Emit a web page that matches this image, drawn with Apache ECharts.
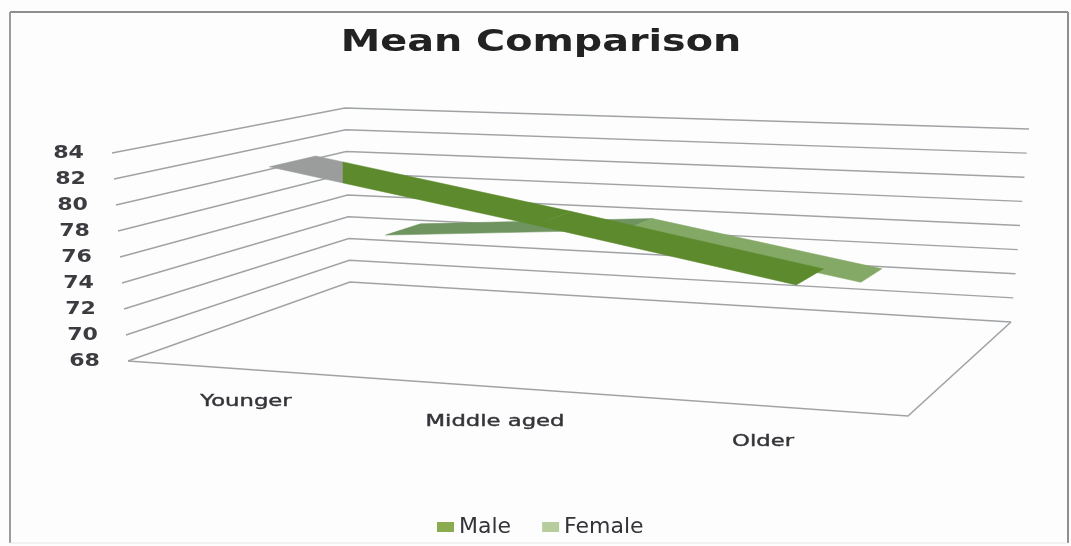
<!DOCTYPE html>
<html>
<head>
<meta charset="utf-8">
<style>
html,body{margin:0;padding:0;background:#fff;}
#chart{width:1071px;height:546px;}
</style>
<script src="https://cdn.jsdelivr.net/npm/echarts@6/dist/echarts.min.js"></script>
</head>
<body>
<div id="chart"></div>
<script>
var categories = ['Younger', 'Middle aged', 'Older'];
var maleValues = [83, 79.5, 76.1];
var femaleValues = [75, 76.4, 73.2];
var tickLabels = [68, 70, 72, 74, 76, 78, 80, 82, 84];

// corners of the 3d box on screen, used to project the flat grid into perspective
var box = {
    frontLeft: { floor: [128, 361], top: [112, 153] },
    frontRight: { floor: [908, 416], top: [925, 186] },
    backLeft: { floor: [350, 282], top: [345, 108] },
    backRight: { floor: [1011, 322], top: [1029, 129] }
};

function mix(a, b, t) {
    return [a[0] + (b[0] - a[0]) * t, a[1] + (b[1] - a[1]) * t];
}

// u: along the categories, d: depth (0 front, 1 back), h: height
function project(u, d, h) {
    var floor = mix(mix(box.frontLeft.floor, box.frontRight.floor, u), mix(box.backLeft.floor, box.backRight.floor, u), d);
    var top = mix(mix(box.frontLeft.top, box.frontRight.top, u), mix(box.backLeft.top, box.backRight.top, u), d);
    return mix(floor, top, h);
}

function toBox(params, point) {
    var g = params.coordSys;
    return [(point[0] - g.x) / g.width, (g.y + g.height - point[1]) / g.height];
}

function poly(points, color) {
    return { type: 'polygon', shape: { points: points }, style: { fill: color, stroke: color, lineWidth: 0.5 } };
}

// a ribbon segment between two categories; splitX cuts it in two colours
function ribbon(values, d0, d1, colors, splitX) {
    return function (params, api) {
        var i = params.dataIndex;
        if (i >= values.length - 1) return null;
        var a = toBox(params, api.coord([i, values[i]]));
        var b = toBox(params, api.coord([i + 1, values[i + 1]]));
        var f0 = project(a[0], d0, a[1]), k0 = project(a[0], d1, a[1]);
        var f1 = project(b[0], d0, b[1]), k1 = project(b[0], d1, b[1]);
        if (splitX && i === 0) {
            var fs = mix(f0, f1, (splitX - f0[0]) / (f1[0] - f0[0]));
            var ks = mix(k0, k1, (splitX - k0[0]) / (k1[0] - k0[0]));
            return {
                type: 'group',
                children: [poly([f0, k0, ks, fs], '#9a9d9b'), poly([fs, ks, k1, f1], colors[i])]
            };
        }
        return poly([f0, k0, k1, f1], colors[i]);
    };
}

function wallLines(params, api) {
    var v = tickLabels[params.dataIndex];
    var h = toBox(params, api.coord([0, v]))[1];
    var a = project(0, 0, h), b = project(0, 1, h), c = project(1, 1, h);
    return {
        type: 'group',
        children: [
            { type: 'polyline', shape: { points: [a, b, c] }, style: { stroke: '#a0a3a6', lineWidth: 1.5, fill: null } },
            {
                type: 'text', x: a[0] - 28, y: a[1] + 1, scaleX: 1.3,
                style: { text: String(v), font: 'bold 17px "DejaVu Sans"', fill: '#3c3c40', align: 'right', verticalAlign: 'middle' }
            }
        ]
    };
}

var catOffset = [[-12, 32], [-23, 33], [-15, 35]];

function floorParts(params, api) {
    var i = params.dataIndex;
    var p = toBox(params, api.coord([i, tickLabels[0]]));
    var base = project(p[0], 0, 0);
    var children = [{
        type: 'text', x: base[0] + catOffset[i][0], y: base[1] + catOffset[i][1], scaleX: 1.42,
        style: {
            text: categories[i], font: '16px "DejaVu Sans"', fill: '#333338',
            stroke: '#333338', lineWidth: 0.4, align: 'center', verticalAlign: 'middle'
        }
    }];
    if (i === 0) {
        children.push({
            type: 'polyline',
            shape: { points: [project(0, 0, 0), project(1, 0, 0), project(1, 1, 0)] },
            style: { stroke: '#a0a3a6', lineWidth: 1.6, fill: null }
        });
    }
    return { type: 'group', children: children };
}

var chart = echarts.init(document.getElementById('chart'));
chart.setOption({
    animation: false,
    backgroundColor: '#fdfdfd',
    grid: { left: 100, right: 100, top: 100, bottom: 100 },
    xAxis: { type: 'category', data: categories, show: false },
    yAxis: { type: 'value', min: 68, max: 84, interval: 2, show: false },
    legend: {
        data: ['Male', 'Female'],
        left: 432,
        top: 511,
        icon: 'rect',
        itemWidth: 17,
        itemHeight: 10,
        itemGap: 31,
        textStyle: { fontFamily: 'DejaVu Sans', fontSize: 22, color: '#333338' }
    },
    graphic: [
        { type: 'text', x: 541, y: 43, scaleX: 1.28, style: { text: 'Mean Comparison', font: 'bold 31px "DejaVu Sans"', fill: '#222', align: 'center', verticalAlign: 'middle' } },
        { type: 'line', shape: { x1: 10, y1: 12, x2: 1068, y2: 12 }, style: { stroke: '#8d8f90', lineWidth: 2 } },
        { type: 'line', shape: { x1: 10, y1: 12, x2: 10, y2: 543 }, style: { stroke: '#9a9c9d', lineWidth: 2 } },
        { type: 'line', shape: { x1: 1068, y1: 12, x2: 1068, y2: 543 }, style: { stroke: '#8d8f90', lineWidth: 2 } },
        { type: 'line', shape: { x1: 10, y1: 543, x2: 1068, y2: 543 }, style: { stroke: '#e6e6e6', lineWidth: 1 } }
    ],
    series: [
        {
            type: 'custom', silent: true, z: 1,
            data: tickLabels.map(function (v) { return [0, v]; }),
            renderItem: wallLines
        },
        {
            type: 'custom', silent: true, z: 1,
            data: categories.map(function (c, i) { return [i, tickLabels[0]]; }),
            renderItem: floorParts
        },
        {
            name: 'Female', type: 'custom', z: 2,
            itemStyle: { color: '#b6cd9e' },
            data: femaleValues.map(function (v, i) { return [i, v]; }),
            renderItem: ribbon(femaleValues, 0.64, 0.81, ['#6f9460', '#84a967'])
        },
        {
            name: 'Male', type: 'custom', z: 3,
            itemStyle: { color: '#8aab50' },
            data: maleValues.map(function (v, i) { return [i, v]; }),
            renderItem: ribbon(maleValues, 0.1, 0.32, ['#5c8a2c', '#5c8a2c'], 343)
        }
    ]
});
</script>
</body>
</html>
